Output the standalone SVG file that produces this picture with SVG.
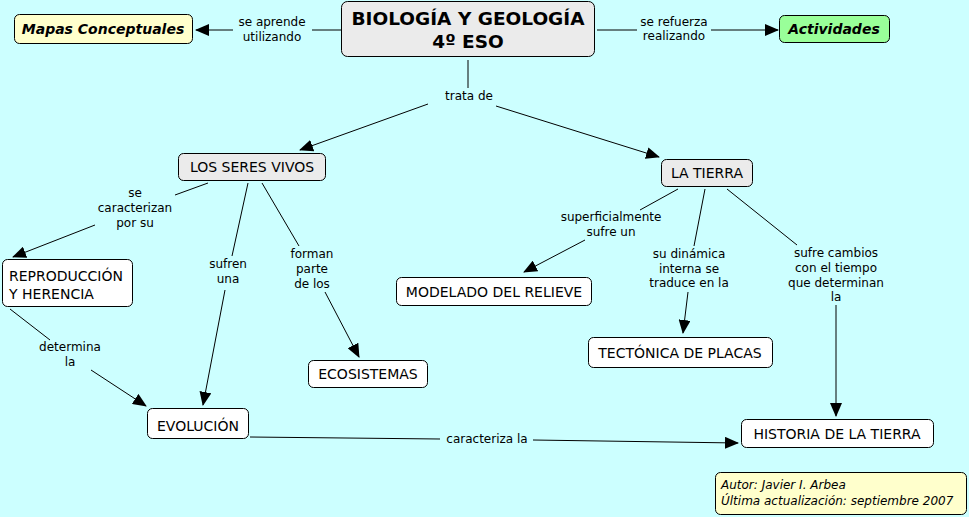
<svg xmlns="http://www.w3.org/2000/svg" width="969" height="517" viewBox="0 0 969 517">
<defs>
<marker id="ah" markerUnits="userSpaceOnUse" markerWidth="14" markerHeight="12" viewBox="0 0 14 12" refX="13" refY="6" orient="auto">
<path d="M0,0 L14,6 L0,12 Z" fill="#000"/>
</marker>
<style>
.bg{fill:#CCFFFF}
.n{stroke:#000;stroke-width:1}
.gray{fill:#EBEBEB}
.white{fill:#FFFFFF}
.yel{fill:#FFFFCC}
.grn{fill:#99FF99}
.t{font-family:"DejaVu Sans",Verdana,sans-serif;font-size:14px;fill:#000;text-anchor:middle}
.tb{font-family:"DejaVu Sans",Verdana,sans-serif;font-size:14px;font-weight:bold;font-style:italic;fill:#000;text-anchor:middle}
.title{font-family:"DejaVu Sans",Verdana,sans-serif;font-size:18.5px;font-weight:bold;fill:#000;text-anchor:middle}
.l{font-family:"DejaVu Sans",Verdana,sans-serif;font-size:12px;fill:#000;text-anchor:middle}
.c{fill:none;stroke:#000;stroke-width:1}
.a{marker-end:url(#ah)}
.au{font-family:"DejaVu Sans",Verdana,sans-serif;font-size:12px;font-style:italic;fill:#000}
</style>
</defs>
<rect class="bg" x="0" y="0" width="969" height="517"/>

<g id="connectors">
<path class="c" d="M341,30 H312"/>
<path class="c a" d="M233,30 H196"/>
<path class="c" d="M597,30 H637"/>
<path class="c a" d="M711,30 H778"/>
<path class="c" d="M468,60 V88"/>
<path class="c a" d="M428,104 L300,150"/>
<path class="c a" d="M496,106 L659,157"/>
<path class="c" d="M208,183 L175,195"/>
<path class="c a" d="M95,225 L13,257"/>
<path class="c" d="M248,183 L232,256"/>
<path class="c a" d="M225,290 L203,405"/>
<path class="c" d="M262,183 L299,246"/>
<path class="c a" d="M325,292 L359,357"/>
<path class="c" d="M10,309 L50,340"/>
<path class="c a" d="M91,370 L146,406"/>
<path class="c" d="M250,437 L440,439"/>
<path class="c a" d="M533,440 L738,443"/>
<path class="c" d="M678,189 L640,210"/>
<path class="c a" d="M585,240 L524,272"/>
<path class="c" d="M705,189 L694,246"/>
<path class="c a" d="M688,292 L683,333"/>
<path class="c" d="M727,189 L797,245"/>
<path class="c a" d="M836,305 V416"/>

<text class="l" x="272" y="26">se aprende</text>
<text class="l" x="272" y="41">utilizando</text>
<text class="l" x="674" y="26">se refuerza</text>
<text class="l" x="674" y="40">realizando</text>
<text class="l" x="469" y="100">trata de</text>
<text class="l" x="135" y="197">se</text>
<text class="l" x="135" y="212">caracterizan</text>
<text class="l" x="135" y="227">por su</text>
<text class="l" x="228" y="268">sufren</text>
<text class="l" x="228" y="283">una</text>
<text class="l" x="312" y="258">forman</text>
<text class="l" x="312" y="273">parte</text>
<text class="l" x="312" y="288">de los</text>
<text class="l" x="70" y="351">determina</text>
<text class="l" x="70" y="366">la</text>
<text class="l" x="487" y="443">caracteriza la</text>
<text class="l" x="611" y="221">superficialmente</text>
<text class="l" x="611" y="236">sufre un</text>
<text class="l" x="689" y="258">su dinámica</text>
<text class="l" x="689" y="273">interna se</text>
<text class="l" x="689" y="287">traduce en la</text>
<text class="l" x="836" y="257">sufre cambios</text>
<text class="l" x="836" y="272">con el tiempo</text>
<text class="l" x="836" y="287">que determinan</text>
<text class="l" x="836" y="301">la</text>
</g>

<g id="main">
<rect class="n gray" x="341.5" y="1.5" width="253" height="55" rx="6"/>
<text class="title" x="468" y="25">BIOLOGÍA Y GEOLOGÍA</text>
<text class="title" x="468" y="48">4º ESO</text>
</g>
<g id="mapas">
<rect class="n yel" x="14.5" y="14.5" width="178" height="29" rx="5"/>
<text class="tb" x="103" y="34">Mapas Conceptuales</text>
</g>
<g id="actividades">
<rect class="n grn" x="779.5" y="15.5" width="110" height="27" rx="5"/>
<text class="tb" x="834" y="34">Actividades</text>
</g>
<g id="seresvivos">
<rect class="n gray" x="178.5" y="153.5" width="147" height="27" rx="5"/>
<text class="t" x="252" y="172">LOS SERES VIVOS</text>
</g>
<g id="tierra">
<rect class="n gray" x="661.5" y="159.5" width="91" height="27" rx="5"/>
<text class="t" x="707" y="178">LA TIERRA</text>
</g>
<g id="reproduccion">
<rect class="n white" x="2.5" y="259.5" width="130" height="47" rx="5"/>
<text class="t" x="9" y="281" style="text-anchor:start">REPRODUCCIÓN</text>
<text class="t" x="9" y="299" style="text-anchor:start">Y HERENCIA</text>
</g>
<g id="evolucion">
<rect class="n white" x="147.5" y="408.5" width="101" height="30" rx="5"/>
<text class="t" x="198" y="431">EVOLUCIÓN</text>
</g>
<g id="ecosistemas">
<rect class="n white" x="308.5" y="360.5" width="119" height="27" rx="5"/>
<text class="t" x="368" y="379">ECOSISTEMAS</text>
</g>
<g id="modelado">
<rect class="n white" x="396.5" y="277.5" width="195" height="28" rx="5"/>
<text class="t" x="494" y="297">MODELADO DEL RELIEVE</text>
</g>
<g id="tectonica">
<rect class="n white" x="588.5" y="337.5" width="184" height="30" rx="5"/>
<text class="t" x="680" y="358">TECTÓNICA DE PLACAS</text>
</g>
<g id="historia">
<rect class="n white" x="741.5" y="419.5" width="192" height="28" rx="5"/>
<text class="t" x="837" y="439">HISTORIA DE LA TIERRA</text>
</g>
<g id="autor">
<rect class="n yel" x="715.5" y="472.5" width="251" height="42" rx="5"/>
<text class="au" x="721" y="489">Autor: Javier I. Arbea</text>
<text class="au" x="721" y="505">Última actualización: septiembre 2007</text>
</g>
</svg>
